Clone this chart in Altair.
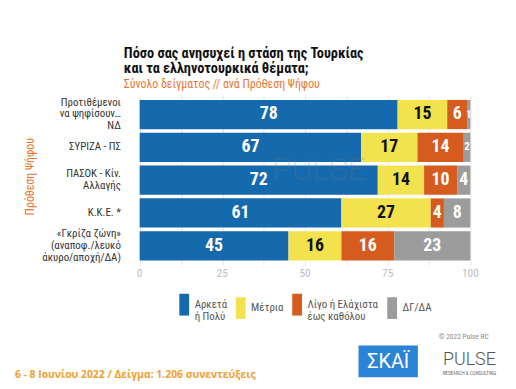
import altair as alt
import pandas as pd

FONT = "Roboto Condensed, Liberation Sans Narrow, DejaVu Sans Condensed, Roboto, sans-serif"
FONT2 = "Open Sans, Roboto, sans-serif"

groups = [
    "Προτιθέμενοι|να ψηφίσουν…|ΝΔ",
    "ΣΥΡΙΖΑ - ΠΣ",
    "ΠΑΣΟΚ - Κίν.|Αλλαγής",
    "Κ.Κ.Ε. *",
    "«Γκρίζα ζώνη»|(αναποφ./λευκό|άκυρο/αποχή/ΔΑ)",
]
answers = ["Αρκετά|ή Πολύ", "Μέτρια", "Λίγο ή Ελάχιστα|έως καθόλου", "ΔΓ/ΔΑ"]
colors = ["#1569AD", "#F2E34E", "#D65B1F", "#9C9C9C"]

much = [78, 67, 72, 61, 45]
moderate = [15, 17, 14, 27, 16]
little = [6, 14, 10, 4, 16]
dkna = [1, 2, 4, 8, 23]

grid_ticks = [0, 12.5, 25, 37.5, 50, 62.5, 75, 87.5, 100]
tick_labels = [0, 25, 50, 75, 100]

rows = []
for gi, g in enumerate(groups):
    for k, (a, series) in enumerate(zip(answers, [much, moderate, little, dkna])):
        rows.append({"group": g, "answer": a, "value": series[gi], "k": k})
df = pd.DataFrame(rows)
gdf = pd.DataFrame({"group": groups, "n": [g.count("|") + 1 for g in groups]})
tdf = pd.DataFrame({"tick": tick_labels})

W, H = 334, 172

y_scale = alt.Scale(domain=groups, paddingInner=0.11, paddingOuter=0.15)
x_scale = alt.Scale(domain=[0, 100], nice=False)

y_enc = alt.Y(
    "group:N",
    sort=groups,
    scale=y_scale,
    axis=alt.Axis(
        title="Πρόθεση Ψήφου",
        titleColor="#E8772E",
        titleFontSize=12,
        titleFontWeight="normal",
        titleFont=FONT,
        titleX=-111,
        titleY=82,
        titleAlign="center",
        titleBaseline="middle",
        labels=False,
        tickSize=0,
        ticks=False,
        domain=False,
        grid=False,
    ),
)

base = alt.Chart(df)

bars = base.mark_bar().encode(
    y=y_enc,
    x=alt.X(
        "value:Q",
        stack="zero",
        scale=x_scale,
        axis=alt.Axis(
            title=None,
            values=grid_ticks,
            labels=False,
            tickSize=0,
            ticks=False,
            domain=False,
            grid=True,
            gridColor="#E6E6E6",
            gridWidth=1,
        ),
    ),
    color=alt.Color(
        "answer:N",
        sort=answers,
        scale=alt.Scale(domain=answers, range=colors),
        legend=alt.Legend(
            title=None,
            orient="none",
            legendX=39.5,
            legendY=206,
            direction="horizontal",
            columns=4,
            columnPadding=8,
            padding=0,
            symbolType="M-0.9,-2H0.9V2H-0.9Z",
            symbolSize=121,
            symbolStrokeWidth=0,
            labelExpr="split(datum.label, '|')",
            labelFont=FONT,
            labelFontSize=11,
            labelColor="#555555",
            labelOffset=5,
            labelLimit=200,
        ),
    ),
    order=alt.Order("k:Q"),
)

# x tick labels through the shared x scale
x_labels = (
    alt.Chart(tdf)
    .mark_text(font=FONT, fontSize=11.5, color="#BDBDBD", baseline="middle", align="center")
    .encode(x=alt.X("tick:Q", scale=x_scale), y=alt.value(H + 9), text="tick:Q")
)


# category labels: one layer per line count so each block is centred on its bar
def cat_layer(n):
    return (
        alt.Chart(gdf)
        .transform_filter(alt.datum.n == n)
        .mark_text(align="right", baseline="middle", font=FONT, fontSize=11,
                   color="#333333", lineBreak="|", lineHeight=12, dy=-(n - 1) * 6)
        .encode(
            y=alt.Y("group:N", sort=groups, scale=y_scale),
            x=alt.value(-19),
            text="group:N",
        )
    )


labels = (
    base.transform_stack(
        stack="value", as_=["v0", "v1"], groupby=["group"], sort=[alt.SortField("k")]
    )
    .transform_calculate(mid="(datum.v0 + datum.v1) / 2")
    .mark_text(font=FONT, fontWeight="bold", baseline="middle", align="center")
    .encode(
        y=alt.Y("group:N", sort=groups, scale=y_scale),
        x=alt.X("mid:Q", scale=x_scale),
        text=alt.Text("value:Q"),
        color=alt.condition(
            alt.datum.answer == "Μέτρια", alt.value("#111111"), alt.value("#FFFFFF")
        ),
        size=alt.condition(alt.datum.value < 3, alt.value(11), alt.value(18)),
    )
)


def note(text, x, y, size, color, weight="normal", align="left", baseline="alphabetic",
         font=FONT, opacity=1.0):
    return (
        alt.Chart(pd.DataFrame({"t": [text]}))
        .mark_text(align=align, baseline=baseline, fontSize=size, color=color,
                   fontWeight=weight, font=font, opacity=opacity)
        .encode(x=alt.value(x), y=alt.value(y), text="t:N")
    )


title1 = note("Πόσο σας ανησυχεί η στάση της Τουρκίας", -16, -37, 14.5, "#111111", "bold")
title2 = note("και τα ελληνοτουρκικά θέματα;", -16, -22, 14.5, "#111111", "bold")
subtitle = note("Σύνολο δείγματος // ανά Πρόθεση Ψήφου", -16, -7, 12, "#E8772E")
watermark = note("PULSE", 181, 76, 32, "#7A7A7A", 300, "center", "middle",
                 font="Roboto, sans-serif", opacity=0.2)
copyright_ = note("© 2022 Pulse RC", 302, 244, 7.5, "#8A8A8A", baseline="middle")
footer = note("6 - 8 Ιουνίου  2022  /  Δείγμα:  1.206 συνεντεύξεις", -126, 286, 10.5,
              "#F0A12E", "bold", font=FONT2)

skai_box = (
    alt.Chart(pd.DataFrame({"t": [1]}))
    .mark_rect(color="#2B84D6")
    .encode(x=alt.value(221), x2=alt.value(281), y=alt.value(253), y2=alt.value(285))
)
skai = note("ΣΚΑΪ", 251, 270, 20, "#FFFFFF", "normal", "center", "middle",
            font="Roboto, sans-serif")
pulse = note("PULSE", 333, 268, 18, "#555555", 300, "center", "middle",
             font="Roboto, sans-serif")
pulse_sub = note("RESEARCH & CONSULTING", 333, 282, 4.5, "#666666", "normal", "center",
                 "middle", font="Roboto, sans-serif")

chart = (
    alt.layer(bars, labels, x_labels, cat_layer(1), cat_layer(2), cat_layer(3), watermark,
              title1, title2, subtitle, copyright_, footer, skai_box, skai, pulse,
              pulse_sub)
    .properties(
        width=W,
        height=H,
        autosize=alt.AutoSizeParams(type="none"),
        padding={"left": 133, "top": 86, "right": 38, "bottom": 118},
        background="#FFFFFF",
    )
    .configure_view(stroke=None)
)

chart.save("out.html", embed_options={"renderer": "svg", "actions": False})
